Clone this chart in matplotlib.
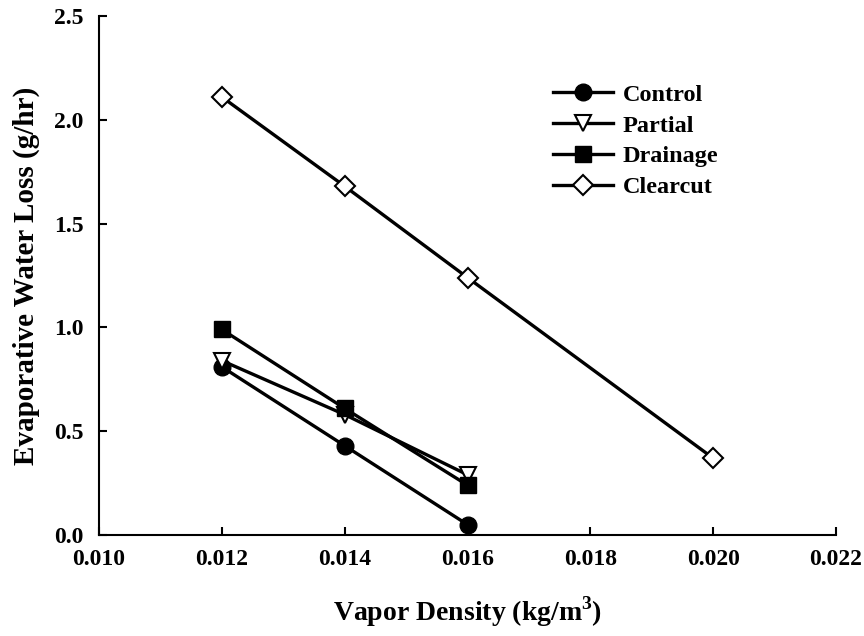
import matplotlib.pyplot as plt
import numpy as np

plt.rcParams['font.family'] = ['Liberation Serif', 'DejaVu Serif']
plt.rcParams['font.weight'] = 'bold'
plt.rcParams['mathtext.fontset'] = 'custom'
plt.rcParams['mathtext.rm'] = 'Liberation Serif:bold'
plt.rcParams['mathtext.bf'] = 'Liberation Serif:bold'

density = [0.012, 0.014, 0.016]
density_cc = [0.012, 0.014, 0.016, 0.020]
control = [0.81, 0.43, 0.05]
partial = [0.84, 0.58, 0.29]
drainage = [0.99, 0.61, 0.24]
clearcut = [2.11, 1.68, 1.24, 0.37]

xticks = [0.010, 0.012, 0.014, 0.016, 0.018, 0.020, 0.022]
yticks = [0.0, 0.5, 1.0, 1.5, 2.0, 2.5]

fig = plt.figure(figsize=(8.64, 6.36), dpi=100)
ax = fig.add_axes([0.1146, 0.1588, 0.853, 0.816])

lw = 2.4
ms = 12
ax.plot(density, control, color='black', lw=lw, marker='o', ms=ms,
        mfc='black', mec='black', label='Control', zorder=3)
ax.plot(density, partial, color='black', lw=lw, marker='v', ms=ms,
        mfc='white', mec='black', mew=1.5, label='Partial', zorder=3)
ax.plot(density, drainage, color='black', lw=lw, marker='s', ms=ms - 1,
        mfc='black', mec='black', label='Drainage', zorder=3)
ax.plot(density_cc, clearcut, color='black', lw=lw, marker='D', ms=ms - 2,
        mfc='white', mec='black', mew=1.5, label='Clearcut', zorder=3)

ax.set_xlim(0.010, 0.022)
ax.set_ylim(0.0, 2.5)
ax.set_xticks(xticks)
ax.set_yticks(yticks)
ax.set_xticklabels(['%.3f' % t for t in xticks])
ax.set_yticklabels(['%.1f' % t for t in yticks])

for s in ['top', 'right']:
    ax.spines[s].set_visible(False)
for s in ['left', 'bottom']:
    ax.spines[s].set_linewidth(1.5)

ax.tick_params(axis='both', direction='in', length=6, width=1.5,
               labelsize=17)
ax.tick_params(axis='x', pad=10)
ax.tick_params(axis='y', pad=11)

ax.set_xlabel(r'Vapor Density (kg/m$^{\mathbf{3}}$)', fontsize=20,
              fontweight='bold', labelpad=18)
ax.set_ylabel('Evaporative Water Loss (g/hr)', fontsize=21,
              fontweight='bold', labelpad=10)

ax.legend(loc='upper left', bbox_to_anchor=(0.603, 0.888), frameon=False,
          fontsize=17.5, handlelength=2.45, labelspacing=0.36,
          handletextpad=0.4, borderaxespad=0)

plt.savefig('out.png', dpi=100)
